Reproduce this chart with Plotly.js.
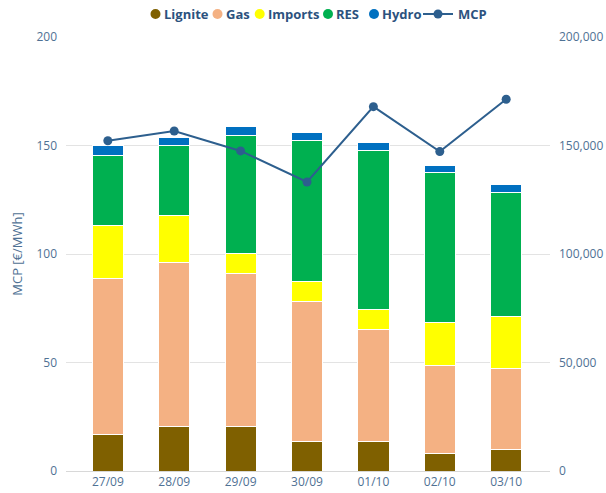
<!DOCTYPE html>
<html>
<head>
<meta charset="utf-8">
<script src="https://cdn.plot.ly/plotly-3.0.1.min.js"></script>
<style>html,body{margin:0;padding:0;background:#fff;}#chart{width:606px;height:493px;}</style>
</head>
<body>
<div id="chart"></div>
<script>
var dates = ['27/09','28/09','29/09','30/09','01/10','02/10','03/10'];
var lignite = [16900, 20700, 20300, 13500, 13800, 8100, 9700];
var gas = [71600, 75600, 70900, 64800, 51500, 40400, 37600];
var imports = [24700, 21400, 9000, 8900, 9200, 19800, 24100];
var res = [32400, 32100, 54200, 65000, 73000, 69100, 57000];
var hydro = [4300, 3800, 4300, 3900, 3900, 3400, 3500];
var mcp = [152.2, 156.7, 147.5, 133.2, 167.9, 147.2, 171.3];

var seriesNames = ['Lignite','Gas','Imports','RES','Hydro'];
var seriesData = [lignite, gas, imports, res, hydro];
var seriesColors = ['#7f6000','#f4b183','#ffff00','#00b050','#0070c0'];
var lineName = 'MCP';
var lineColor = '#2d5f8e';
var textColor = '#4f7194';
var legendColor = '#2c527e';
var fontFam = '"Open Sans", "Noto Sans", sans-serif';

var traces = [];
for (var i = 0; i < seriesNames.length; i++) {
  traces.push({
    type: 'bar', x: dates, y: seriesData[i], name: seriesNames[i],
    marker: {color: seriesColors[i], line: {color: '#ffffff', width: 1}},
    width: 0.47, yaxis: 'y', hoverinfo: 'y+name'
  });
}
traces.push({
  type: 'scatter', mode: 'lines+markers', x: dates, y: mcp, name: lineName,
  yaxis: 'y2', line: {color: lineColor, width: 2}, marker: {color: lineColor, size: 9}
});

// custom legend (layout only): plot area spans x 66..550 px, y 37..471 px
var L = 66, W = 484, B = 471, H = 434;
function px2x(p) { return (p - L) / W; }
function py2y(p) { return (B - p) / H; }
var legY = py2y(14);
var circleX = [155.5, 217.5, 259.7, 328, 374];
var textX = [162, 224, 266, 334, 380];
var shapes = [], annotations = [];
for (var k = 0; k < seriesNames.length; k++) {
  shapes.push({type: 'circle', xref: 'paper', yref: 'paper', xsizemode: 'pixel', ysizemode: 'pixel',
    xanchor: px2x(circleX[k]), yanchor: legY, x0: -5, x1: 5, y0: -5, y1: 5,
    fillcolor: seriesColors[k], line: {width: 0}});
  annotations.push({xref: 'paper', yref: 'paper', x: px2x(textX[k]), y: legY, xanchor: 'left', yanchor: 'middle',
    text: '<b>' + seriesNames[k] + '</b>', showarrow: false,
    font: {family: fontFam, size: 13, color: legendColor}});
}
shapes.push({type: 'line', xref: 'paper', yref: 'paper', x0: px2x(423), x1: px2x(453), y0: legY, y1: legY,
  line: {color: lineColor, width: 2}});
shapes.push({type: 'circle', xref: 'paper', yref: 'paper', xsizemode: 'pixel', ysizemode: 'pixel',
  xanchor: px2x(438), yanchor: legY, x0: -4.5, x1: 4.5, y0: -4.5, y1: 4.5,
  fillcolor: lineColor, line: {width: 0}});
annotations.push({xref: 'paper', yref: 'paper', x: px2x(456), y: legY, xanchor: 'left', yanchor: 'middle',
  text: '<b>' + lineName + '</b>', showarrow: false, font: {family: fontFam, size: 13, color: legendColor}});

var layout = {
  width: 606, height: 493,
  margin: {l: 66, r: 56, t: 37, b: 22, pad: 0},
  paper_bgcolor: '#ffffff', plot_bgcolor: '#ffffff',
  barmode: 'stack',
  font: {family: fontFam, color: textColor, size: 12},
  showlegend: false,
  shapes: shapes,
  annotations: annotations,
  xaxis: {
    type: 'category', range: [-0.63, 6.66], showgrid: false, zeroline: false,
    showline: true, linecolor: '#d8d8d8', linewidth: 1,
    tickfont: {size: 12, color: textColor}, ticks: '', fixedrange: true
  },
  yaxis: {
    side: 'right', range: [0, 200000], dtick: 50000, tickformat: ',d',
    showgrid: true, gridcolor: '#e3e3e3', gridwidth: 1, zeroline: false,
    tickfont: {size: 12, color: textColor}, ticklabelstandoff: 8, ticks: ''
  },
  yaxis2: {
    side: 'left', overlaying: 'y', range: [0, 200], dtick: 50,
    showgrid: false, zeroline: false,
    tickfont: {size: 12, color: textColor}, ticklabelstandoff: 8, ticks: '',
    title: {text: 'MCP [€/MWh]', font: {size: 13, color: textColor}, standoff: 10}
  }
};

Plotly.newPlot('chart', traces, layout, {displayModeBar: false, staticPlot: true});
</script>
</body>
</html>
